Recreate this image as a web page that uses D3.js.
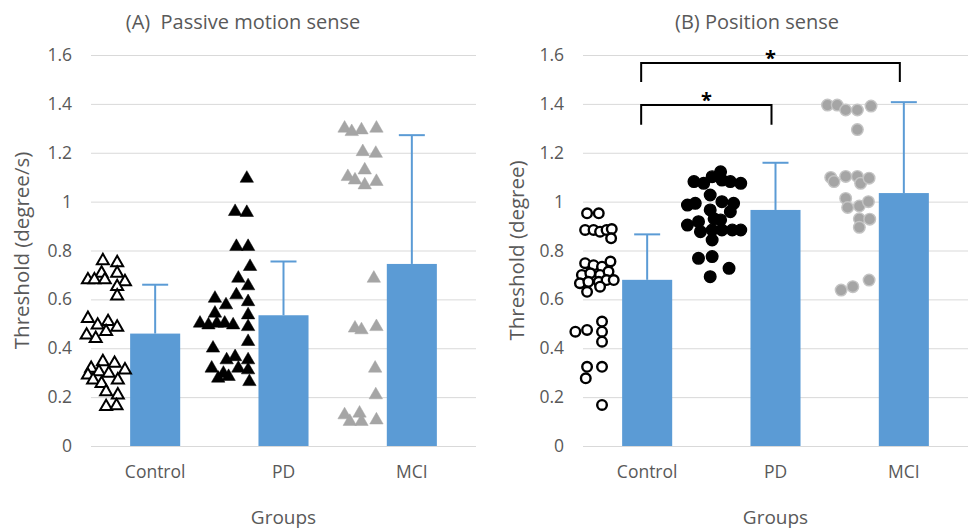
<!DOCTYPE html>
<html>
<head>
<meta charset="utf-8">
<script src="https://cdn.jsdelivr.net/npm/d3@7"></script>
<style>
  body { margin: 0; background: #fff; }
  svg { display: block; font-family: "Open Sans", "Noto Sans", sans-serif; }
</style>
</head>
<body>
<svg width="968" height="530"></svg>
<script>
const groups = ["Control", "PD", "MCI"]
const yTicks = [0, 0.2, 0.4, 0.6, 0.8, 1, 1.2, 1.4, 1.6]

// bar heights and error bar lengths
const motionMeans = [0.46, 0.535, 0.745]
const motionErr = [0.20, 0.22, 0.527]
const positionMeans = [0.68, 0.966, 1.035]
const positionErr = [0.186, 0.193, 0.372]

// individual subjects: [jitter 0..1, threshold]
const motionControl = [[0.58,0.758],[0.80,0.75],[0.56,0.707],[0.35,0.68],[0.45,0.68],[0.61,0.68],[0.80,0.707],[0.92,0.672],[0.80,0.652],[0.80,0.614],
  [0.35,0.522],[0.50,0.495],[0.66,0.509],[0.80,0.486],[0.33,0.454],[0.47,0.44],[0.63,0.468],
  [0.58,0.345],[0.76,0.338],[0.40,0.318],[0.52,0.304],[0.67,0.297],[0.35,0.29],[0.92,0.311],[0.81,0.27],[0.43,0.27],[0.56,0.256],[0.63,0.222],[0.81,0.209],[0.63,0.161],[0.79,0.165]]
const motionPD = [[0.82,1.095],[0.64,0.959],[0.82,0.955],[0.66,0.816],[0.84,0.816],[0.87,0.734],[0.69,0.686],[0.84,0.655],[0.66,0.618],[0.33,0.604],[0.84,0.59],[0.50,0.577],
  [0.33,0.543],[0.84,0.536],[0.10,0.502],[0.23,0.495],[0.36,0.502],[0.48,0.502],[0.61,0.495],[0.84,0.488],[0.84,0.427],[0.30,0.40],
  [0.51,0.352],[0.64,0.365],[0.84,0.352],[0.28,0.318],[0.46,0.297],[0.69,0.318],[0.84,0.311],[0.38,0.277],[0.54,0.284],[0.86,0.263]]
const motionMCI = [[0.35,1.30],[0.46,1.286],[0.61,1.293],[0.84,1.30],[0.63,1.204],[0.83,1.197],[0.66,1.129],[0.40,1.102],[0.51,1.088],[0.66,1.068],[0.84,1.082],
  [0.80,0.686],[0.51,0.482],[0.61,0.475],[0.84,0.488],[0.82,0.318],[0.83,0.209],[0.35,0.127],[0.43,0.10],[0.58,0.134],[0.61,0.10],[0.84,0.106]]
const positionControl = [[0.46,0.952],[0.64,0.952],[0.43,0.884],[0.56,0.884],[0.66,0.877],[0.76,0.884],[0.84,0.888],[0.83,0.85],
  [0.43,0.748],[0.56,0.74],[0.69,0.734],[0.82,0.755],[0.38,0.70],[0.51,0.707],[0.66,0.70],[0.79,0.714],[0.35,0.666],[0.48,0.672],[0.64,0.672],[0.76,0.679],[0.87,0.679],[0.46,0.631],[0.66,0.652],
  [0.28,0.468],[0.46,0.475],[0.69,0.509],[0.69,0.468],[0.69,0.427],[0.46,0.324],[0.69,0.324],[0.44,0.277],[0.69,0.168]]
const positionPD = [[0.54,1.122],[0.41,1.102],[0.13,1.082],[0.28,1.075],[0.56,1.088],[0.69,1.082],[0.85,1.075],[0.38,1.027],[0.56,1.0],[0.03,0.986],[0.15,0.993],[0.74,0.993],[0.38,0.966],[0.69,0.959],
  [0.03,0.904],[0.20,0.918],[0.44,0.93],[0.54,0.925],[0.41,0.884],[0.56,0.884],[0.72,0.884],[0.85,0.884],[0.23,0.877],[0.41,0.843],
  [0.20,0.768],[0.41,0.775],[0.67,0.727],[0.38,0.693]]
const positionMCI = [[0.21,1.395],[0.36,1.395],[0.49,1.375],[0.67,1.375],[0.88,1.391],[0.67,1.295],
  [0.26,1.099],[0.31,1.082],[0.49,1.103],[0.67,1.103],[0.72,1.075],[0.85,1.096],[0.49,1.013],[0.52,0.976],[0.70,0.982],[0.84,1.0],[0.70,0.93],[0.86,0.928],[0.70,0.895],
  [0.42,0.638],[0.60,0.652],[0.85,0.679]]

// significance brackets for position sense
const positionBrackets = [
  {from: "Control", to: "MCI", top: 1.567, leg: 1.49, label: "*"},
  {from: "Control", to: "PD", top: 1.395, leg: 1.315, label: "*"}
]

const textColor = "#595959"
const barColor = "#5b9bd5"
const gridColor = "#d9d9d9"

const svg = d3.select("svg")
const y = d3.scaleLinear().domain([0, 1.6]).range([446, 55])

drawPanel({
  left: 91, right: 476, title: "(A)\u00a0\u00a0Passive motion sense", titleX: 243,
  yTitle: "Threshold (degree/s)", yTitleX: 22,
  means: motionMeans, errs: motionErr,
  points: [motionControl, motionPD, motionMCI],
  marker: "triangle", brackets: []
})
drawPanel({
  left: 583, right: 968, title: "(B) Position sense", titleX: 757,
  yTitle: "Threshold (degree)", yTitleX: 517,
  means: positionMeans, errs: positionErr,
  points: [positionControl, positionPD, positionMCI],
  marker: "circle", brackets: positionBrackets
})

function drawPanel(cfg) {
  const g = svg.append("g")
  const x = d3.scaleBand().domain(groups).range([cfg.left, cfg.right]).paddingInner(0.61).paddingOuter(0.305)
  const center = d => x(d) + x.bandwidth() / 2
  const jit = d3.scaleLinear().domain([0, 1]).range([-90, -25])

  // grid
  g.append("g")
    .attr("transform", `translate(${cfg.left},0)`)
    .call(d3.axisLeft(y).tickValues(yTicks).tickSize(-(cfg.right - cfg.left)).tickFormat(d => d3.format("~g")(d)))
    .call(a => a.select(".domain").remove())
    .call(a => a.selectAll(".tick line").attr("stroke", gridColor).attr("stroke-width", 1))
    .call(a => a.selectAll(".tick text").attr("x", -19).attr("fill", textColor)
      .style("font-size", "17.5px").style("font-family", "'Open Sans', sans-serif"))

  // x labels
  g.append("g")
    .attr("transform", `translate(0,${y(0)})`)
    .call(d3.axisBottom(x).tickSize(0).tickPadding(20))
    .call(a => a.select(".domain").remove())
    .call(a => a.selectAll(".tick text").attr("fill", textColor)
      .style("font-size", "17.5px").style("font-family", "'Open Sans', sans-serif"))

  // bars
  g.selectAll(".bar").data(groups).enter().append("rect")
    .attr("x", d => x(d))
    .attr("width", x.bandwidth())
    .attr("y", (d, i) => y(cfg.means[i]))
    .attr("height", (d, i) => y(0) - y(cfg.means[i]))
    .attr("fill", barColor)

  // error bars (upper only)
  const eb = g.selectAll(".err").data(groups).enter().append("g")
  eb.append("line")
    .attr("x1", center).attr("x2", center)
    .attr("y1", (d, i) => y(cfg.means[i]))
    .attr("y2", (d, i) => y(cfg.means[i] + cfg.errs[i]))
    .attr("stroke", barColor).attr("stroke-width", 2)
  eb.append("line")
    .attr("x1", d => center(d) - 13).attr("x2", d => center(d) + 13)
    .attr("y1", (d, i) => y(cfg.means[i] + cfg.errs[i]))
    .attr("y2", (d, i) => y(cfg.means[i] + cfg.errs[i]))
    .attr("stroke", barColor).attr("stroke-width", 2)

  // subject markers
  const styles = [
    {fill: "#fff", stroke: "#000"},
    {fill: "#000", stroke: "#000"},
    {fill: "#a5a5a5", stroke: cfg.marker === "circle" ? "#c4c4c4" : "#a5a5a5"}
  ]
  groups.forEach((grp, gi) => {
    const st = styles[gi]
    const sel = g.append("g").selectAll("path").data(cfg.points[gi]).enter()
    if (cfg.marker === "triangle") {
      sel.append("path")
        .attr("d", d3.symbol(d3.symbolTriangle, gi === 0 ? 62 : 78))
        .attr("transform", d => `translate(${center(grp) + jit(d[0])},${y(d[1])})`)
        .attr("fill", st.fill).attr("stroke", st.stroke).attr("stroke-width", gi === 0 ? 2 : 0.5)
    } else {
      sel.append("circle")
        .attr("cx", d => center(grp) + jit(d[0]))
        .attr("cy", d => y(d[1]))
        .attr("r", gi === 0 ? 4.8 : 5.8)
        .attr("fill", st.fill).attr("stroke", st.stroke).attr("stroke-width", gi === 0 ? 2.4 : 1.4)
    }
  })

  // significance brackets
  cfg.brackets.forEach(b => {
    const x1 = center(b.from) - 6, x2 = center(b.to) - 4
    g.append("path")
      .attr("d", `M${x1},${y(b.leg)}V${y(b.top)}H${x2}V${y(b.leg)}`)
      .attr("fill", "none").attr("stroke", "#000").attr("stroke-width", 2)
    g.append("text")
      .attr("x", (x1 + x2) / 2).attr("y", y(b.top) + 2)
      .attr("text-anchor", "middle")
      .style("font-size", "20px").style("font-weight", "bold").attr("fill", "#000")
      .text(b.label)
  })

  // titles
  g.append("text")
    .attr("x", cfg.titleX).attr("y", 29)
    .attr("text-anchor", "middle").attr("fill", textColor)
    .style("font-size", "20px")
    .text(cfg.title)
  g.append("text")
    .attr("transform", `translate(${cfg.yTitleX},${(y(0) + y(1.6)) / 2}) rotate(-90)`)
    .attr("text-anchor", "middle").attr("dy", "0.35em").attr("fill", textColor)
    .style("font-size", "20.5px")
    .text(cfg.yTitle)
  g.append("text")
    .attr("x", (cfg.left + cfg.right) / 2).attr("y", 524)
    .attr("text-anchor", "middle").attr("fill", textColor)
    .style("font-size", "19px")
    .text("Groups")
}
</script>
</body>
</html>
